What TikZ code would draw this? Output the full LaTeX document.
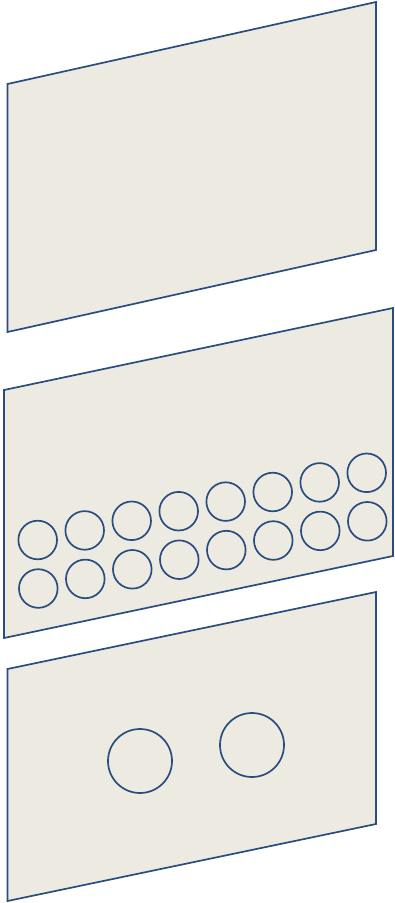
\documentclass[tikz,border=0pt]{standalone}
\begin{document}
\begin{tikzpicture}[x=1pt,y=-1pt,
  panel/.style={fill=panelfill,draw=edge,line width=1.7pt,line join=miter},
  hole/.style={draw=edge,line width=1.7pt}]
\definecolor{panelfill}{HTML}{EDEBE1}
\definecolor{edge}{HTML}{2A4D80}
\useasboundingbox (0,0) rectangle (394,903);
\draw[panel] (7.5,84) -- (376,2) -- (376,250) -- (7.5,332) -- cycle;
\draw[panel] (4,390) -- (393,308) -- (393,556) -- (4,638) -- cycle;
\draw[panel] (7.5,669) -- (376,592) -- (376,824) -- (7.5,901) -- cycle;
\foreach \i in {0,...,7}{
  \draw[hole] ({37.7+47*\i},{540-9.6*\i}) circle (19.3);
  \draw[hole] ({38.3+47*\i},{588.5-9.6*\i}) circle (19.3);
}
\draw[hole] (140,761) circle (32);
\draw[hole] (252,745) circle (32);
\end{tikzpicture}
\end{document}
